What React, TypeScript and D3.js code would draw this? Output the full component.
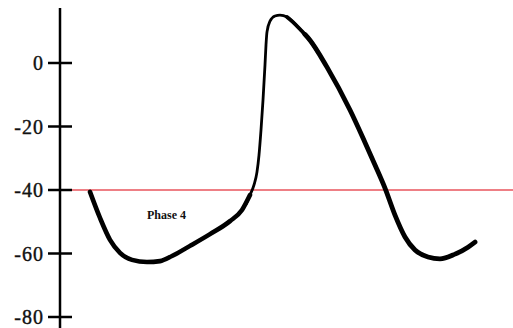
import React from "react";
import * as d3 from "d3";

const yTicks = [0, -20, -40, -60, -80];
const threshold = -40;
const label = "Phase 4";

// time (arbitrary units), membrane potential (mV)
const phase4T = [30, 40, 50, 60, 72, 87, 100, 112, 130, 150, 170, 182, 190];
const phase4V = [-40.6, -48.8, -55.7, -59.8, -62.0, -62.7, -62.4, -60.8, -57.6, -53.9, -49.8, -46.3, -41.6];
const upT = [186, 190, 194, 197, 199, 201, 203, 205, 206, 207, 210, 215, 220, 227, 233, 241, 250];
const upV = [-44.5, -41.6, -38.4, -34.3, -29.0, -21.1, -11.7, -0.6, 5.7, 9.8, 13.2, 14.8, 15.1, 14.5, 12.9, 10.3, 7.2];
const midT = [227, 233, 241, 250, 258];
const midV = [14.5, 12.9, 10.3, 7.2, 3.4];
const downT = [245, 250, 267, 290, 303, 315, 325, 335, 345, 355, 368, 380, 395, 408, 415];
const downV = [9.0, 7.2, -1.3, -14.8, -23.6, -32.1, -39.4, -47.9, -54.8, -58.9, -61.1, -61.7, -60.2, -58.0, -56.4];

const W = 513, H = 328;
const x = d3.scaleLinear().domain([0, 453]).range([60, 513]);
const y = d3.scaleLinear().domain([0, -80]).range([63, 317]);

const line = d3.line<[number, number]>().x(d => x(d[0])).y(d => y(d[1])).curve(d3.curveMonotoneX);
const zip = (a: number[], b: number[]) => a.map((v, i) => [v, b[i]] as [number, number]);

export default function App() {
  return (
    <svg width={W} height={H} style={{ position: "absolute", left: 0, top: 0, background: "#fff" }}>
      <line x1={x(0)} x2={W} y1={y(threshold)} y2={y(threshold)} stroke="#e8545c" strokeWidth={1.5} />
      <line x1={60} x2={60} y1={8} y2={H} stroke="#000" strokeWidth={2.5} />
      {yTicks.map(t => (
        <g key={t}>
          <line x1={48} x2={72} y1={y(t)} y2={y(t)} stroke="#000" strokeWidth={2.5} />
          <text x={44} y={y(t) + 7} textAnchor="end" fontFamily="Liberation Serif" fontSize={20} letterSpacing={1} fill="#111" stroke="#111" strokeWidth={0.4}>
            {t === 0 ? "0" : "-" + Math.abs(t)}
          </text>
        </g>
      ))}
      <path d={line(zip(phase4T, phase4V)) || ""} fill="none" stroke="#000" strokeWidth={4.6} strokeLinecap="round" />
      <path d={line(zip(upT, upV)) || ""} fill="none" stroke="#000" strokeWidth={2.8} strokeLinecap="round" />
      <path d={line(zip(midT, midV)) || ""} fill="none" stroke="#000" strokeWidth={3.8} strokeLinecap="round" />
      <path d={line(zip(downT, downV)) || ""} fill="none" stroke="#000" strokeWidth={4.8} strokeLinecap="round" />
      <text x={147} y={219} fontFamily="Liberation Serif" fontWeight="bold" fontSize={12} fill="#111">{label}</text>
    </svg>
  );
}
